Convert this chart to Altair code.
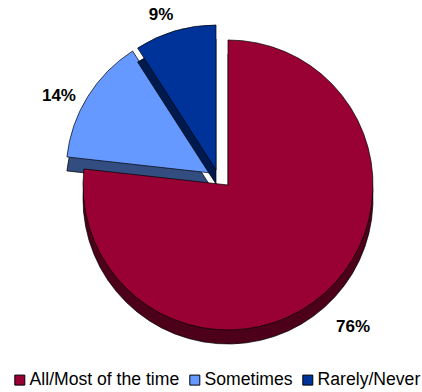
import altair as alt
import pandas as pd

# Survey answers and their shares (percent)
categories = ["All/Most of the time", "Sometimes", "Rarely/Never"]
values = [76, 14, 9]

# Top-face and side-wall colours of each slice
face_colors = ["#990033", "#6699FF", "#003399"]
side_colors = ["#4d0019", "#334d80", "#001a4d"]

# Pie geometry: slice centres (exploded slices sit apart), radius, wall depth
RADIUS = 145
DEPTH = 14
centers = {
    "All/Most of the time": (228, 185),
    "Sometimes": (211, 173),
    "Rarely/Never": (216, 170),
}
# label distance from the slice centre, plus a small nudge
label_place = {
    "All/Most of the time": (189, -1, 1),
    "Sometimes": (166, -11, 11),
    "Rarely/Never": (163, -9, 1),
}
# back-to-front drawing order
draw_order = ["Sometimes", "Rarely/Never", "All/Most of the time"]

df = pd.DataFrame({
    "category": categories,
    "value": values,
    "order": list(range(len(categories))),
})

base = (
    alt.Chart(df)
    .transform_stack(stack="value", groupby=[], as_=["v0", "v1"],
                     sort=[alt.SortField("order")])
    .transform_joinaggregate(total="sum(value)")
    .transform_calculate(
        start="datum.v0 / datum.total",
        end="datum.v1 / datum.total",
        mid="(datum.v0 + datum.v1) / 2 / datum.total",
        label="datum.value + '%'",
    )
)

theta_scale = alt.Scale(domain=[0, 1])
color_scale = alt.Scale(domain=categories, range=face_colors)

layers = []
for cat in draw_order:
    i = categories.index(cat)
    cx, cy = centers[cat]
    sl = base.transform_filter(alt.datum.category == cat)
    side = sl.mark_arc(radius=RADIUS, fill=side_colors[i], stroke="black",
                       strokeWidth=0.7).encode(
        theta=alt.Theta("start:Q", scale=theta_scale),
        theta2="end:Q",
        x=alt.value(cx),
        y=alt.value(cy + DEPTH),
    )
    face = sl.mark_arc(radius=RADIUS, stroke="black", strokeWidth=0.7).encode(
        theta=alt.Theta("start:Q", scale=theta_scale),
        theta2="end:Q",
        x=alt.value(cx),
        y=alt.value(cy),
        color=alt.Color("category:N", scale=color_scale,
                        legend=alt.Legend(title=None)),
    )
    layers += [side, face]

for cat in categories:
    cx, cy = centers[cat]
    r, ndx, ndy = label_place[cat]
    txt = (
        base.transform_filter(alt.datum.category == cat)
        .mark_text(font="Liberation Sans", fontSize=17, fontWeight="bold",
                   color="black", align="center", baseline="middle",
                   dx=ndx, dy=ndy)
        .encode(
            theta=alt.Theta("mid:Q", scale=theta_scale),
            radius=alt.value(r),
            x=alt.value(cx),
            y=alt.value(cy),
            text="label:N",
        )
    )
    layers.append(txt)

chart = (
    alt.layer(*layers)
    .properties(width=422, height=392, padding=0,
                autosize=alt.AutoSizeParams(type="none"))
    .configure_view(stroke=None)
    .configure_legend(
        orient="none",
        legendX=11,
        legendY=371,
        direction="horizontal",
        symbolType="square",
        symbolSize=100,
        symbolStrokeColor="black",
        symbolStrokeWidth=1,
        symbolOpacity=1,
        labelFont="Liberation Sans",
        labelFontSize=17.6,
        labelColor="black",
        labelOffset=1,
        labelLimit=300,
        columnPadding=6,
        padding=0,
    )
)

chart.save("out.html", embed_options={"renderer": "svg", "actions": False})
